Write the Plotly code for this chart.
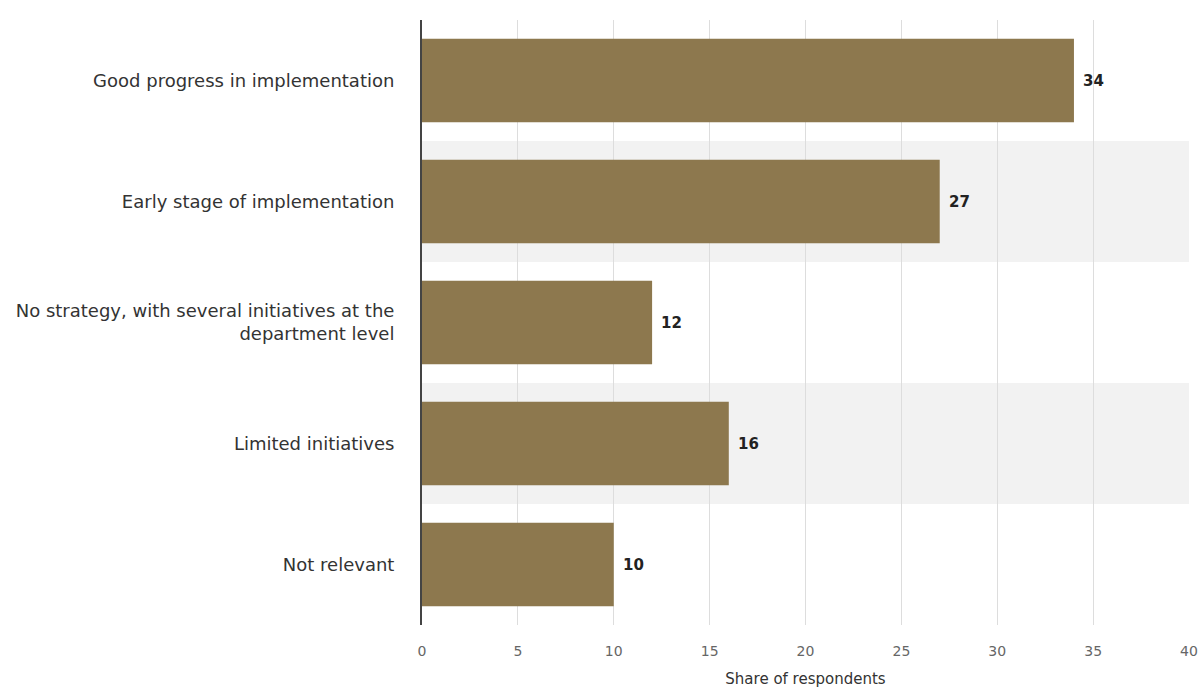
import plotly.graph_objects as go

categories = [
    "Good progress in implementation",
    "Early stage of implementation",
    "No strategy, with several initiatives at the<br>department level",
    "Limited initiatives",
    "Not relevant",
]
shares = [34, 27, 12, 16, 10]
x_ticks = [0, 5, 10, 15, 20, 25, 30, 35, 40]

bar_color = "#8D784E"
font_family = "DejaVu Sans, Verdana, sans-serif"

fig = go.Figure(
    go.Bar(
        x=shares,
        y=categories,
        orientation="h",
        marker=dict(color=bar_color, line=dict(width=0)),
        width=0.69,
        hoverinfo="x+y",
    )
)

# alternating light row bands behind the 2nd and 4th rows
shapes = []
for i in range(len(categories)):
    if i % 2 == 1:
        shapes.append(dict(
            type="rect", xref="paper", yref="y",
            x0=0, x1=1.0, y0=i - 0.5, y1=i + 0.5,
            fillcolor="#F2F2F2", line=dict(width=0), layer="below",
        ))

# value labels at the end of each bar
annotations = [
    dict(x=v, y=c, xref="x", yref="y", text=f"<b>{v}</b>",
         showarrow=False, xanchor="left", xshift=7,
         font=dict(size=15, color="#222222", family=font_family))
    for c, v in zip(categories, shares)
]

fig.update_layout(
    width=1201, height=689,
    margin=dict(l=422, r=12, t=20, b=64),
    paper_bgcolor="white", plot_bgcolor="white",
    showlegend=False,
    bargap=0.31,
    shapes=shapes,
    annotations=annotations,
    font=dict(family=font_family, color="#333333"),
    xaxis=dict(
        range=[0, 40], tickvals=x_ticks, ticktext=[str(t) for t in x_ticks],
        showgrid=True, gridcolor="#DDDDDD", gridwidth=1,
        zeroline=False, showline=False,
        tickfont=dict(size=14, color="#666666"),
        ticks="", ticklabelstandoff=16,
        title=dict(text="Share of respondents", font=dict(size=15, color="#333333"), standoff=15),
        automargin=False,
        fixedrange=True,
    ),
    yaxis=dict(
        autorange="reversed",
        showgrid=False, zeroline=False,
        showline=True, linecolor="#444444", linewidth=2,
        tickfont=dict(size=18, color="#333333"),
        ticks="", ticklabelstandoff=22,
        automargin=False,
        fixedrange=True,
    ),
)

fig.write_html("out.html")
